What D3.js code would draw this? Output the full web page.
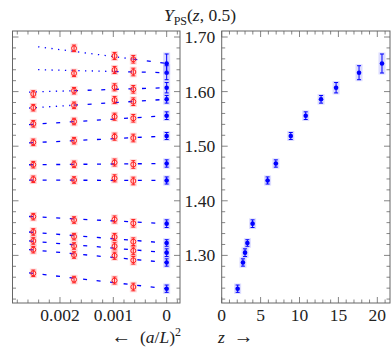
<!DOCTYPE html>
<html><head><meta charset="utf-8">
<script src="https://cdn.jsdelivr.net/npm/d3@7"></script>
<style>
html,body{margin:0;padding:0;background:#fff;}
svg{display:block;}
text{font-family:"Liberation Serif","Times New Roman",serif;}
</style></head><body>
<svg id="c" width="391" height="359"></svg>
<script>
// ---- data ----
const latticeA2 = [1/400, 1/576, 1/1024, 1/1600];           // (a/L)^2 for L/a = 20,24,32,40
const zValues   = [2.05, 2.73, 3.0, 3.3, 3.97, 5.9, 6.96, 8.88, 10.8, 12.77, 14.7, 17.65, 20.6];
const contY     = [1.239, 1.287, 1.305, 1.3227, 1.3581, 1.4372, 1.4683, 1.5187, 1.5559, 1.5859, 1.6071, 1.6346, 1.6515];
const contErr   = [0.0067, 0.0067, 0.007, 0.006, 0.007, 0.0065, 0.0067, 0.0064, 0.007, 0.007, 0.0095, 0.0128, 0.0174];
const yL20 = [1.2672, 1.3104, 1.3264, 1.3429, 1.3709, 1.4394, 1.4661, 1.5071, 1.541, 1.5705, 1.5956, null, null];
const yL24 = [1.2557, 1.3007, 1.3172, 1.3343, 1.3648, 1.4381, 1.4668, 1.5101, 1.5452, 1.5749, 1.6016, 1.6335, 1.6793];
const yL32 = [1.254, 1.2993, 1.3167, 1.3337, 1.3658, 1.4412, 1.4701, 1.5174, 1.554, 1.5846, 1.6079, 1.6396, 1.6652];
const yL40 = [1.2421, 1.291, 1.3084, 1.3251, 1.3588, 1.4363, 1.4665, 1.515, 1.5511, 1.5815, 1.6042, 1.6359, 1.6592];
const latErr = [0.006, 0.006, 0.0065, 0.007];
const fitSlope = [11.2, 9.2, 8.3, 7.8, 5.1, 0.3, -0.9, -4.9, -6.3, -6.2, -3.1, 2.3, 12.7];
const fitFrom  = [0.00258, 0.00258, 0.00258, 0.00258, 0.00258, 0.00258, 0.00258, 0.00258, 0.00258, 1/576, 1/576, 1/1024, 1/1600];
const drawFrom = [0.00258, 0.00258, 0.00258, 0.00258, 0.00258, 0.00258, 0.00258, 0.00258, 0.00258, 0.00258, 0.00258, 0.00241, 0.00241];
const yTicks = [1.30, 1.40, 1.50, 1.60, 1.70];
const leftXTicks = [0.002, 0.001, 0];
const rightXTicks = [0, 5, 10, 15, 20];

// ---- layout ----
const svg = d3.select("#c");
const yTop = 31, yBot = 303;
const L = {x0: 12.5, x1: 180}, R = {x0: 221.7, x1: 390};
const y = d3.scaleLinear().domain([1.2128, 1.711]).range([yBot, yTop]);
const xL = d3.scaleLinear().domain([0.00289, -0.00025]).range([L.x0, L.x1]);
const xR = d3.scaleLinear().domain([0, 21.63]).range([R.x0, R.x1]);
const frameCol = "#666", FS = 17.5;
const BLUE = "#0000ff", RED = "#ff2020";

function frame(x0, x1){
  svg.append("rect").attr("x", x0).attr("y", yTop).attr("width", x1-x0).attr("height", yBot-yTop)
    .attr("fill","none").attr("stroke",frameCol).attr("stroke-width",1);
}
function ticksX(sc, major, minor){
  const g = svg.append("g").attr("stroke", frameCol).attr("stroke-width",0.8);
  const all = minor.map(v=>({v, len:3.5})).concat(major.map(v=>({v,len:6})));
  all.forEach(t=>{
    const px = sc(t.v);
    g.append("line").attr("x1",px).attr("x2",px).attr("y1",yBot).attr("y2",yBot-t.len);
    g.append("line").attr("x1",px).attr("x2",px).attr("y1",yTop).attr("y2",yTop+t.len);
  });
}
function ticksY(x0, x1, major, minor){
  const g = svg.append("g").attr("stroke", frameCol).attr("stroke-width",0.8);
  const all = minor.map(v=>({v, len:3.5})).concat(major.map(v=>({v,len:6})));
  all.forEach(t=>{
    const py = y(t.v);
    g.append("line").attr("x1",x0).attr("x2",x0+t.len).attr("y1",py).attr("y2",py);
    g.append("line").attr("x1",x1).attr("x2",x1-t.len).attr("y1",py).attr("y2",py);
  });
}
const minorY = d3.range(61, 86).map(i=>i*0.02).filter(v=>v>1.213 && v<1.711 && !yTicks.some(t=>Math.abs(t-v)<1e-6));
const minorXL = d3.range(-1, 15).map(i=>i*0.0002).filter(v=>v>-0.00025 && v<0.00289 && !leftXTicks.some(t=>Math.abs(t-v)<1e-9));
const minorXR = d3.range(0, 22).filter(v=>v<21.6 && !rightXTicks.includes(v));

frame(L.x0, L.x1); frame(R.x0, R.x1);
ticksX(xL, leftXTicks, minorXL); ticksX(xR, rightXTicks, minorXR);
ticksY(L.x0, L.x1, yTicks, minorY); ticksY(R.x0, R.x1, yTicks, minorY);

// tick labels
const tl = svg.append("g").attr("font-size", FS).attr("fill","#222");
leftXTicks.forEach(v=>tl.append("text").attr("x",xL(v)).attr("y",321).attr("text-anchor","middle").text(v===0?"0":d3.format(".3f")(v)));
rightXTicks.forEach(v=>tl.append("text").attr("x",xR(v)).attr("y",321).attr("text-anchor","middle").text(v));
yTicks.forEach(v=>tl.append("text").attr("x",R.x0-6.5).attr("y",y(v)).attr("dy","0.34em").attr("text-anchor","end").text(d3.format(".2f")(v)));

// axis titles
const at = svg.append("g").attr("font-size", FS).attr("fill","#222");
const t1 = at.append("text").attr("x", 181).attr("y", 343).attr("text-anchor","end");
t1.append("tspan").attr("font-size",20).text("←");
t1.append("tspan").text("\u2002(");
t1.append("tspan").attr("font-style","italic").text("a");
t1.append("tspan").text("/");
t1.append("tspan").attr("font-style","italic").text("L");
t1.append("tspan").text(")");
t1.append("tspan").attr("font-size",12).attr("dy",-7).text("2");
const t2 = at.append("text").attr("x", 218).attr("y", 343);
t2.append("tspan").attr("font-style","italic").text("z");
t2.append("tspan").text("\u2002");
t2.append("tspan").attr("font-size",20).text("→");
// title
const tt = svg.append("text").attr("x", 200).attr("y", 21).attr("text-anchor","middle").attr("font-size", FS).attr("fill","#222");
tt.append("tspan").attr("font-style","italic").text("Y");
tt.append("tspan").attr("font-size",12).attr("dy",4).text("PS");
tt.append("tspan").attr("dy",-4).text("(");
tt.append("tspan").attr("font-style","italic").text("z");
tt.append("tspan").text(", 0.5)");

// ---- left panel: extrapolation lines ----
const gl = svg.append("g");
const line = d3.line().x(d=>xL(d[0])).y(d=>y(d[1]));
zValues.forEach((z,i)=>{
  const f = x=>contY[i] + fitSlope[i]*x;
  if (drawFrom[i] > fitFrom[i] + 1e-9){
    gl.append("path").attr("d", line([[drawFrom[i], f(drawFrom[i])],[fitFrom[i], f(fitFrom[i])]]))
      .attr("fill","none").attr("stroke",BLUE).attr("stroke-width",1.3).attr("stroke-dasharray","1.3 5.4");
  }
  gl.append("path").attr("d", line([[fitFrom[i], f(fitFrom[i])],[0, f(0)]]))
    .attr("fill","none").attr("stroke",BLUE).attr("stroke-width",1.3).attr("stroke-dasharray","4 9.6");
});

function point(g, px, yv, err, col, halo, filled){
  const y0 = y(yv+err), y1 = y(yv-err);
  g.append("rect").attr("x",px-3.5).attr("y",y0-1.5).attr("width",7).attr("height",y1-y0+3)
    .attr("fill",halo).attr("opacity",0.22);
  g.append("line").attr("x1",px).attr("x2",px).attr("y1",y0).attr("y2",y1).attr("stroke",col).attr("stroke-width",1);
  [y0,y1].forEach(yy=>g.append("line").attr("x1",px-2).attr("x2",px+2).attr("y1",yy).attr("y2",yy).attr("stroke",col).attr("stroke-width",1));
  if (filled) g.append("circle").attr("cx",px).attr("cy",y(yv)).attr("r",2.3).attr("fill",col);
  else g.append("circle").attr("cx",px).attr("cy",y(yv)).attr("r",2.5).attr("fill","none").attr("stroke",col).attr("stroke-width",1);
}
const gp = svg.append("g");
[yL20, yL24, yL32, yL40].forEach((arr, k)=>{
  arr.forEach(v=>{ if (v!=null) point(gp, xL(latticeA2[k]), v, latErr[k], RED, "#ff6060", false); });
});
contY.forEach((v,i)=>point(gp, xL(0), v, contErr[i], BLUE, "#6060ff", true));

// ---- right panel ----
const gr = svg.append("g");
zValues.forEach((z,i)=>point(gr, xR(z), contY[i], contErr[i], BLUE, "#6060ff", true));
</script></body></html>
